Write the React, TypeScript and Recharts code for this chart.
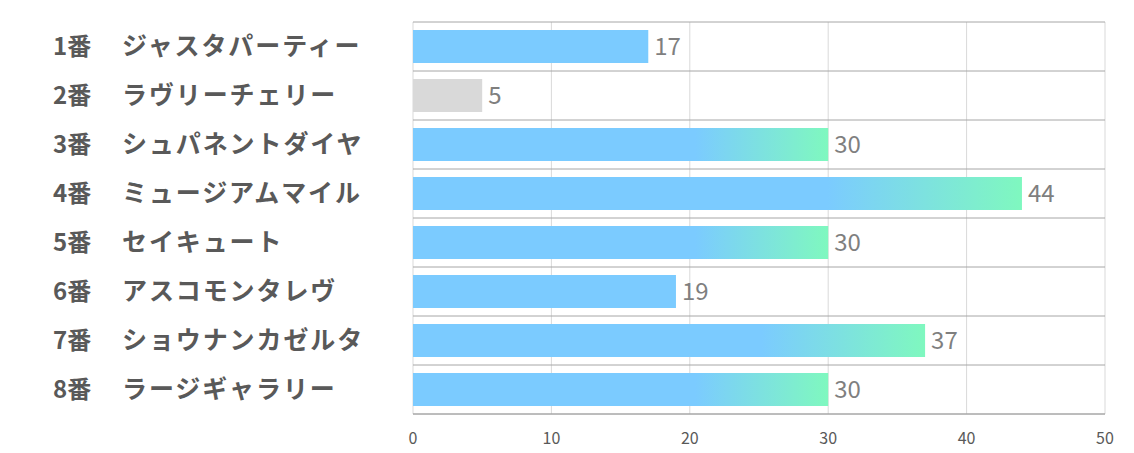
import React from "react";
import { BarChart, Bar, XAxis, YAxis, CartesianGrid, Cell, LabelList } from "recharts";

const horseNumbers = ["1番", "2番", "3番", "4番", "5番", "6番", "7番", "8番"];
const horseNames = [
  "ジャスタパーティー",
  "ラヴリーチェリー",
  "シュパネントダイヤ",
  "ミュージアムマイル",
  "セイキュート",
  "アスコモンタレヴ",
  "ショウナンカゼルタ",
  "ラージギャラリー",
];
const scores = [17, 5, 30, 44, 30, 19, 37, 30];
const colorKinds = ["blue", "grey", "grad", "grad", "grad", "blue", "grad", "grad"];
const xTicks = [0, 10, 20, 30, 40, 50];

const BLUE = "#7BCBFF";
const GREEN = "#7FF8BF";
const GREY = "#D9D9D9";

const data = horseNames.map((name, i) => ({
  key: `${horseNumbers[i]}|${name}`,
  num: horseNumbers[i],
  name,
  value: scores[i],
  kind: colorKinds[i],
}));

const fillFor = (kind: string) =>
  kind === "grey" ? GREY : kind === "grad" ? "url(#barGrad)" : BLUE;

const YTick = (props: any) => {
  const { y, payload } = props;
  const [num, name] = String(payload.value).split("|");
  return (
    <text
      x={53}
      y={y}
      dy="0.36em"
      fill="#595959"
      fontSize={24}
      fontWeight="bold"
      fontFamily="'Noto Sans CJK JP', sans-serif"
      textAnchor="start"
    >
      <tspan>{num}</tspan>
      <tspan x={122} fontSize={25} letterSpacing={1.9}>{name}</tspan>
    </text>
  );
};

export default function App() {
  const n = data.length;
  return (
    <div style={{ position: "absolute", left: 0, top: 0, width: 1134, height: 453, background: "#fff" }}>
      <BarChart
        width={1134}
        height={453}
        data={data}
        layout="vertical"
        margin={{ top: 22, right: 29, bottom: 9, left: 53 }}
        barSize={33}
      >
        <defs>
          <linearGradient id="barGrad" x1="0" y1="0" x2="1" y2="0">
            <stop offset="0" stopColor={BLUE} />
            <stop offset="0.68" stopColor={BLUE} />
            <stop offset="1" stopColor={GREEN} />
          </linearGradient>
        </defs>
        <CartesianGrid horizontal={false} stroke="#D9D9D9" strokeWidth={1} />
        <CartesianGrid
          vertical={false}
          stroke="#A6A6A6"
          strokeWidth={1}
          horizontalCoordinatesGenerator={({ offset }: any) =>
            Array.from({ length: n + 1 }, (_, i) => offset.top + (i * offset.height) / n)
          }
        />
        <XAxis
          type="number"
          domain={[0, 50]}
          ticks={xTicks}
          axisLine={{ stroke: "#A6A6A6" }}
          tickLine={false}
          tickMargin={13}
          height={30}
          tick={{ fill: "#595959", fontSize: 16, fontFamily: "'Noto Sans CJK JP', sans-serif" }}
        />
        <YAxis
          type="category"
          dataKey="key"
          width={360}
          axisLine={false}
          tickLine={false}
          tick={<YTick />}
          interval={0}
        />
        <Bar dataKey="value" isAnimationActive={false}>
          {data.map((d, i) => (
            <Cell key={i} fill={fillFor(d.kind)} />
          ))}
          <LabelList
            dataKey="value"
            position="right"
            offset={6}
            fill="#7F7F7F"
            fontSize={24}
            fontFamily="'Noto Sans CJK JP', sans-serif"
          />
        </Bar>
      </BarChart>
    </div>
  );
}
